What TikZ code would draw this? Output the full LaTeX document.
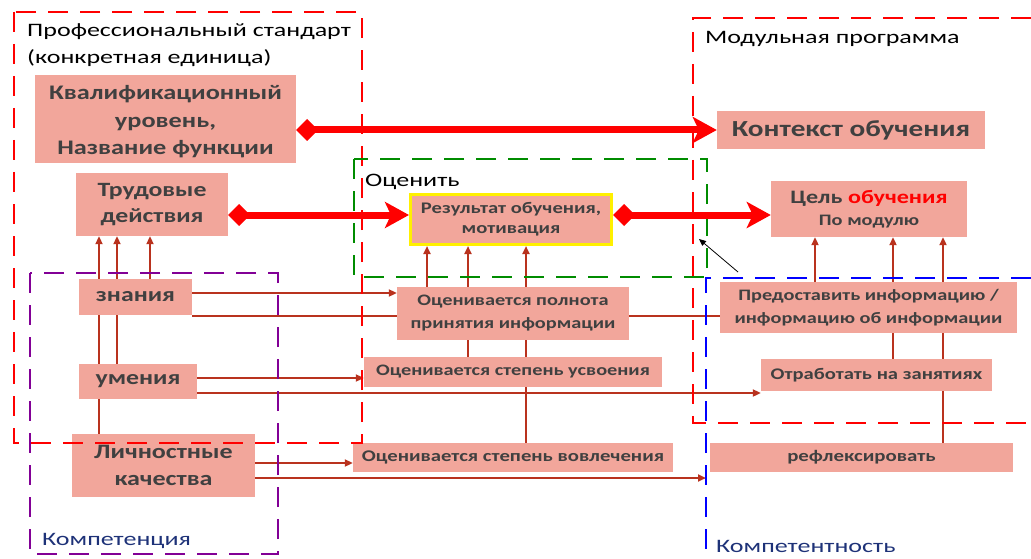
\documentclass[tikz,border=0pt]{standalone}
\usepackage{fontspec}
\setmainfont{Carlito}[FakeStretch=1.27]
\newfontfamily\lblfont{Carlito}[FakeStretch=1.37]
\usetikzlibrary{arrows.meta}
\pgfdeclarelayer{bg}
\pgfsetlayers{bg,main}
\definecolor{boxfill}{RGB}{242,166,155}
\definecolor{boxtext}{RGB}{64,64,64}
\definecolor{darr}{RGB}{185,50,30}
\definecolor{navy}{RGB}{30,50,120}
\definecolor{fgreen}{RGB}{0,140,0}
\definecolor{fpurple}{RGB}{130,0,150}
\definecolor{fyellow}{RGB}{255,240,0}
\newcommand{\fs}[2]{\fontsize{#1}{#2}\selectfont}
\begin{document}
\begin{tikzpicture}[x=1pt,y=-1pt,
  box/.style={fill=boxfill,draw=none,inner sep=0pt,align=center,text=boxtext,font=\bfseries},
  bigarr/.style={red,line width=7pt,{Diamond[length=22pt,width=22pt]}-{Stealth[length=24pt,width=26pt,inset=6pt]}},
  thinarr/.style={darr,line width=2.3pt,-{Triangle[length=8pt,width=7pt]}},
  thinline/.style={darr,line width=2.3pt},
  frame/.style={line width=2.8pt,dash pattern=on 20pt off 12pt},
  flabel/.style={anchor=base west,inner sep=0pt,align=left,font=\lblfont\fs{19}{27}}]
\useasboundingbox (0,0) rectangle (1031,559);
% boxes
\node[box,minimum width=261pt,minimum height=88pt,font=\bfseries\fs{20.7}{27.5}] (kval) at (165.5,119) {\rule{0pt}{20pt}Квалификационный\\уровень,\\Название функции};
\node[box,minimum width=152pt,minimum height=63pt,font=\bfseries\fs{20.3}{26}] (trud) at (152,204.5) {Трудовые\\действия};
\node[box,minimum width=268pt,minimum height=38pt,font=\bfseries\fs{23}{27}] (kont) at (851,130) {Контекст обучения};
\node[box,minimum width=196pt,minimum height=56pt,font=\bfseries\fs{19}{22}] (cel) at (869,209) {Цель \textcolor{red}{обучения}\\{\fs{16}{23}По модулю}};
\node[box,minimum width=201pt,minimum height=50pt,font=\bfseries\fs{16.2}{20},draw=fyellow,line width=3pt] (res) at (511,219.5) {Результат обучения,\\мотивация};
\node[box,minimum width=232pt,minimum height=53pt,font=\bfseries\fs{16}{23}] (poln) at (513,313.5) {Оценивается полнота\\принятия информации};
\node[box,minimum width=298pt,minimum height=30pt,font=\bfseries\fs{16}{20}] (usv) at (513,372) {Оценивается степень усвоения};
\node[box,minimum width=320pt,minimum height=29pt,font=\bfseries\fs{16.3}{20}] (vovl) at (513,457.5) {Оценивается степень вовлечения};
\node[box,minimum width=297pt,minimum height=51pt,font=\bfseries\fs{16}{23}] (pred) at (868.5,307.5) {Предоставить информацию /\\информацию об информации};
\node[box,minimum width=231pt,minimum height=32pt,font=\bfseries\fs{16.2}{20}] (otr) at (876.5,375) {Отработать на занятиях};
\node[box,minimum width=303pt,minimum height=29pt,font=\bfseries\fs{16.4}{20}] (refl) at (861.5,457.5) {рефлексировать};
\node[box,minimum width=113pt,minimum height=36pt,font=\bfseries\fs{20.3}{26}] (zn) at (135.5,297) {знания};
\node[box,minimum width=118pt,minimum height=35pt,font=\bfseries\fs{20.3}{26}] (um) at (138,381.5) {умения};
\node[box,minimum width=183pt,minimum height=63pt,font=\bfseries\fs{20.5}{27}] (lich) at (163.5,465.5) {Личностные\\качества};
% thin connectors behind boxes
\begin{pgfonlayer}{bg}
\draw[thinarr] (lich.north -| 99,0) -- (trud.south -| 99,0);
\draw[thinarr] (um.north -| 117,0) -- (trud.south -| 117,0);
\draw[thinarr] (zn.north -| 150,0) -- (trud.south -| 150,0);
\draw[thinline] (zn.east |- 0,316) -- (pred.west |- 0,316);
\draw[thinarr] (um.east |- 0,393) -- (otr.west |- 0,393);
\draw[thinarr] (poln.north -| 427,0) -- (res.south -| 427,0);
\draw[thinarr] (usv.north -| 468,0) -- (res.south -| 468,0);
\draw[thinarr] (vovl.north -| 526,0) -- (res.south -| 526,0);
\draw[thinarr] (pred.north -| 815,0) -- (cel.south -| 815,0);
\draw[thinarr] (otr.north -| 893,0) -- (cel.south -| 893,0);
\draw[thinarr] (refl.north -| 943,0) -- (cel.south -| 943,0);
\end{pgfonlayer}
\draw[thinarr] (zn.east |- 0,293) -- (poln.west |- 0,293);
\draw[thinarr] (um.east |- 0,378) -- (usv.west |- 0,378);
\draw[thinarr] (lich.east |- 0,463) -- (vovl.west |- 0,463);
\coordinate (lichend) at (706,478);
\draw[thinarr] (lich.east |- lichend) -- (lichend);
% frames
\draw[frame,red] (14,12) rectangle (362,443);
\draw[frame,fpurple] (30,273) rectangle (278,554);
\draw[frame,fgreen] (354,159) rectangle (707,277);
\draw[frame,red] (1031,18) -- (693,18) -- (693,423) -- (1031,423);
\draw[frame,blue] (1031,278) -- (706,278) -- (706,559);
% thick arrows
\draw[bigarr] (kval.east |- kont.west) -- (kont.west);
\draw[bigarr] (trud.east |- 0,215) -- (res.west |- 0,215);
\draw[bigarr] (res.east |- 0,215) -- (cel.west |- 0,215);
% black arrow
\coordinate (bs) at (738,272);
\coordinate (be) at (699,239);
\draw[black,line width=0.8pt,-{Triangle[length=7pt,width=6pt]}] (bs) -- (be);
% frame labels
\node[flabel] (l1) at (27,64) {Профессиональный стандарт\\(конкретная единица)};
\node[flabel] (l2) at (705,44) {Модульная программа};
\node[flabel] (l3) at (365,186) {Оценить};
\node[flabel,text=navy] (l4) at (42,545) {Компетенция};
\node[flabel,text=navy] (l5) at (716,552) {Компетентность};
\end{tikzpicture}
\end{document}
